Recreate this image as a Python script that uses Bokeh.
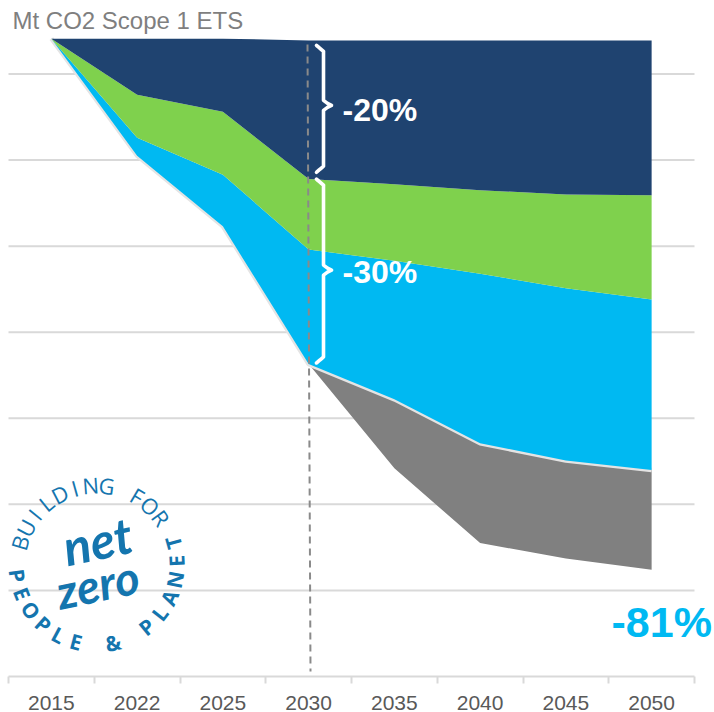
import numpy as np
from bokeh.embed import file_html
from bokeh.resources import INLINE
from bokeh.plotting import figure
from bokeh.models import FixedTicker, Label

years = ["2015", "2022", "2025", "2030", "2035", "2040", "2045", "2050"]
navy_top = [74.1, 74.1, 74.1, 73.9, 73.9, 73.9, 73.9, 73.9]
green_top = [74.1, 67.6, 65.6, 57.8, 57.2, 56.5, 56.0, 55.9]
blue_top = [74.1, 62.6, 58.3, 49.6, 48.3, 46.8, 45.1, 43.8]
blue_bottom = [74.1, 60.5, 52.3, 36.3, 32.2, 27.1, 25.1, 24.0]
gray_bottom = [36.3, 24.2, 15.5, 13.7, 12.4]
grid_values = [10, 20, 30, 40, 50, 60, 70]

NAVY, GREEN, BLUE, GRAY = "#1F4370", "#7FD14D", "#00B9F2", "#808080"
LOGO = "#1475AE"
FONT = "Liberation Sans"

W, H = 714, 712
L, R, B = 8, 694, 677
UNIT = (R - L) / len(years)
PER = 8.62
xs = [i + 0.5 for i in range(len(years))]

def dx(px):
    return (px - L) / UNIT

def dy(py):
    return (B - py) / PER

p = figure(width=W, height=H, output_backend="svg", toolbar_location=None,
           x_range=(dx(0), dx(W)), y_range=(0, dy(0)),
           y_axis_location=None, min_border_left=0, min_border_right=0,
           min_border_top=0, min_border_bottom=H - B, outline_line_color=None,
           margin=(0, 0, 0, 0), background_fill_color="white")

p.grid.visible = False

ax = p.xaxis[0]
ax.ticker = FixedTicker(ticks=xs, minor_ticks=list(range(len(years) + 1)))
ax.bounds = (0, len(years))
ax.major_label_overrides = {x: y for x, y in zip(xs, years)}
ax.major_tick_line_color = None
ax.minor_tick_line_color = "#D9D9D9"
ax.minor_tick_line_width = 2
ax.minor_tick_out = 7
ax.minor_tick_in = 0
ax.axis_line_color = "#D9D9D9"
ax.axis_line_width = 2
ax.major_label_text_font = FONT
ax.major_label_text_font_size = "21px"
ax.major_label_text_color = "#595959"
ax.major_label_standoff = 12

p.segment(x0=[0] * len(grid_values), x1=[len(years)] * len(grid_values), y0=grid_values, y1=grid_values,
          line_color="#D9D9D9", line_width=2)

p.varea(xs[3:], gray_bottom, blue_bottom[3:], fill_color=GRAY)
p.line(xs, blue_bottom, line_color="#E4E4E4", line_width=4.5)
p.varea(xs, blue_bottom, blue_top, fill_color=BLUE)
p.varea(xs, blue_top, green_top, fill_color=GREEN)
p.varea(xs, green_top, navy_top, fill_color=NAVY)

# dashed marker at 2030
p.line([dx(307), dx(310)], [dy(44), dy(672)], line_color="#8A8A8A", line_width=2, line_dash="7 5")

def brace(top, bottom, tip):
    spine, end, point = 323, 316, 331
    r = 6
    t = np.linspace(0, np.pi / 2, 8)
    px = [spine - (spine - end) * np.cos(a) for a in t[::-1]]
    py = [top + r - r * np.cos(a) for a in t[::-1]]
    px += [spine, spine, (spine + point) / 2, point, (spine + point) / 2, spine, spine]
    py += [top + r, tip - 5, tip - 2, tip, tip + 2, tip + 5, bottom - r]
    px += [spine - (spine - end) * np.sin(a) for a in t]
    py += [bottom - r + r * np.cos(np.pi / 2 - a) for a in t]
    return [dx(v) for v in px], [dy(v) for v in py]

for top, bottom, tip in [(45, 172, 105), (179, 363, 270)]:
    bx, by = brace(top, bottom, tip)
    p.line(bx, by, line_color="white", line_width=3.6, line_join="round", line_cap="round")

def label(text, px, py, size, color, bold=False, align="left", angle=0, font=FONT, style=None):
    p.add_layout(Label(x=dx(px), y=dy(py), text=text, text_font=font, text_font_size=f"{size}px",
                       text_color=color, text_align=align, text_baseline="middle",
                       text_font_style=style or ("bold" if bold else "normal"),
                       angle=angle, angle_units="deg"))

label("Mt CO2 Scope 1 ETS", 12, 20, 24, "#7F7F7F")
label("-20%", 342, 110, 32, "white", bold=True)
label("-30%", 342, 272, 32, "white", bold=True)
label("-81%", 611, 622, 43, BLUE, bold=True)

# logo
CX, CY, RAD = 96, 565, 80
top_text = "BUILDING FOR"
bottom_text = "PEOPLE & PLANET"
for i, ch in enumerate(top_text):
    th = -74 + i * 128 / (len(top_text) - 1)
    a = np.radians(th)
    label(ch, CX + RAD * np.sin(a), CY - RAD * np.cos(a), 22, LOGO, align="center", angle=-th, font="Open Sans")
for i, ch in enumerate(bottom_text):
    ph = -82 + i * 188 / (len(bottom_text) - 1)
    a = np.radians(ph)
    label(ch, CX + RAD * np.sin(a), CY + RAD * np.cos(a), 21, LOGO, align="center", angle=ph, font="Open Sans", style="bold")
label("net", 97, 541, 50, LOGO, align="center", angle=12, font="Lato", style="bold italic")
label("zero", 97, 584, 47, LOGO, align="center", angle=12, font="Lato", style="bold italic")

open("out.html", "w").write(file_html(p, INLINE))
